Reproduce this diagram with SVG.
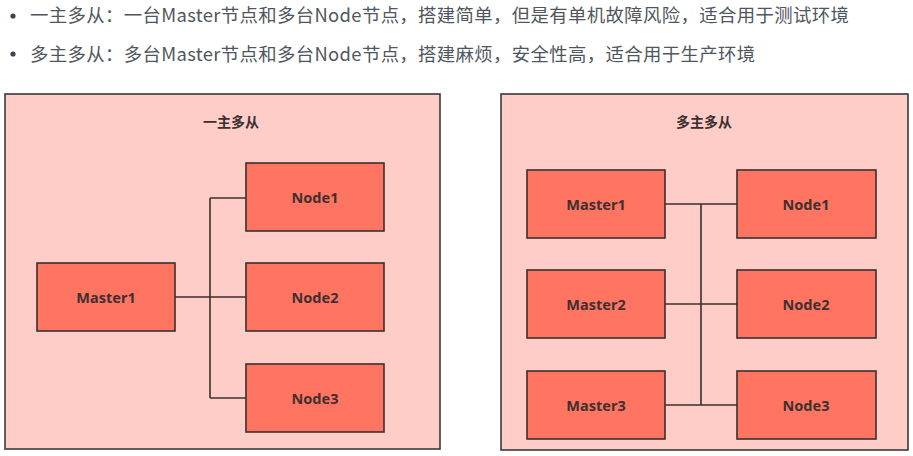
<svg xmlns="http://www.w3.org/2000/svg" width="913" height="456" viewBox="0 0 913 456">
<style>
.hdr{font-family:"Noto Sans CJK SC","Noto Sans",sans-serif;font-size:18.4px;letter-spacing:0.35px;fill:#50565e}
.box{fill:#ffcdc8;stroke:#3a3a3a;stroke-width:1.6}
.title{font-family:"Noto Sans CJK SC",sans-serif;font-size:14px;font-weight:bold;fill:#3a3030;text-anchor:middle}
.node rect{fill:#ff7562;stroke:#3a3030;stroke-width:1.6}
.node text{font-family:"Noto Sans","Liberation Sans",sans-serif;font-size:14.5px;font-weight:bold;fill:#3f3030;text-anchor:middle;dominant-baseline:central}
.conn{fill:none;stroke:#3a3030;stroke-width:1.6}
</style>
<rect width="913" height="456" fill="#ffffff"/>
<g id="header">
<circle cx="13" cy="16" r="2.6" fill="#3d4550"/>
<text class="hdr" x="30" y="22">一主多从：一台Master节点和多台Node节点，搭建简单，但是有单机故障风险，适合用于测试环境</text>
<circle cx="13" cy="54" r="2.6" fill="#3d4550"/>
<text class="hdr" x="30" y="61">多主多从：多台Master节点和多台Node节点，搭建麻烦，安全性高，适合用于生产环境</text>
</g>
<g id="container-left">
<rect class="box" x="5" y="94" width="435" height="355"/>
<text class="title" x="231" y="127">一主多从</text>
</g>
<g id="container-right">
<rect class="box" x="501" y="94" width="407" height="356"/>
<text class="title" x="704" y="127">多主多从</text>
</g>
<g id="connectors">
<path class="conn" d="M175 297H246M210 198V398M210 198H246M210 398H246"/>
<path class="conn" d="M701 204V405M665 204H737M665 304H737M665 405H737"/>
</g>
<g id="L-Master1" class="node"><rect x="37" y="263" width="138" height="68"/><text x="106" y="297">Master1</text></g>
<g id="L-Node1" class="node"><rect x="246" y="163" width="138" height="68"/><text x="315" y="197">Node1</text></g>
<g id="L-Node2" class="node"><rect x="246" y="263" width="138" height="68"/><text x="315" y="297">Node2</text></g>
<g id="L-Node3" class="node"><rect x="246" y="364" width="138" height="68"/><text x="315" y="398">Node3</text></g>
<g id="R-Master1" class="node"><rect x="527" y="170" width="138" height="68"/><text x="596" y="204">Master1</text></g>
<g id="R-Master2" class="node"><rect x="527" y="270" width="138" height="68"/><text x="596" y="304">Master2</text></g>
<g id="R-Master3" class="node"><rect x="527" y="371" width="138" height="68"/><text x="596" y="405">Master3</text></g>
<g id="R-Node1" class="node"><rect x="737" y="170" width="139" height="68"/><text x="806" y="204">Node1</text></g>
<g id="R-Node2" class="node"><rect x="737" y="270" width="139" height="68"/><text x="806" y="304">Node2</text></g>
<g id="R-Node3" class="node"><rect x="737" y="371" width="139" height="68"/><text x="806" y="405">Node3</text></g>
</svg>
